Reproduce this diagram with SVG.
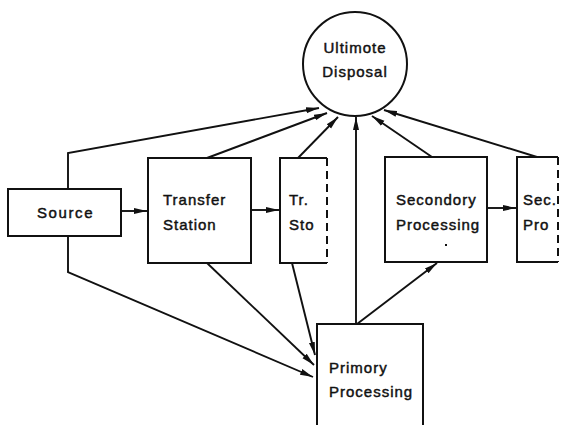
<svg xmlns="http://www.w3.org/2000/svg" width="561" height="425" viewBox="0 0 561 425">
<style>
.b{fill:#fff;stroke:#111;stroke-width:2}
.e{fill:none;stroke:#111;stroke-width:2}
.c{fill:none;stroke:#111;stroke-width:1.9;marker-end:url(#ah)}
.t{font-family:"Liberation Sans",Arial,sans-serif;font-size:15px;letter-spacing:1px;fill:#111;stroke:#111;stroke-width:0.45}
</style>
<defs>
<marker id="ah" markerUnits="userSpaceOnUse" markerWidth="14" markerHeight="8" refX="13" refY="4" orient="auto">
<path d="M0,1 L13,4 L0,7 z" fill="#111"/>
</marker>
</defs>
<rect width="561" height="425" fill="#fff"/>
<g id="connectors">
<line class="c" x1="121" y1="211" x2="147" y2="211"/>
<line class="c" x1="251" y1="210" x2="279" y2="210"/>
<line class="c" x1="487" y1="208" x2="516" y2="208"/>
<polyline class="c" points="68,189 68,153 319,108"/>
<line class="c" x1="207" y1="158" x2="327" y2="113"/>
<line class="c" x1="298" y1="158" x2="338" y2="117"/>
<line class="c" x1="356" y1="324" x2="356" y2="117"/>
<line class="c" x1="432" y1="157" x2="372" y2="116"/>
<line class="c" x1="537" y1="157" x2="384" y2="110"/>
<polyline class="c" points="68,236 68,272 313,377"/>
<line class="c" x1="207" y1="263" x2="314" y2="365"/>
<line class="c" x1="292" y1="263" x2="315" y2="355"/>
<line class="c" x1="357" y1="324" x2="437" y2="263"/>
</g>
<g id="ultimate-disposal">
<circle class="b" cx="355" cy="64" r="52"/>
<text class="t" x="355" y="53" text-anchor="middle">Ultimote</text>
<text class="t" x="355" y="77" text-anchor="middle">Disposal</text>
</g>
<g id="source">
<rect class="b" x="8" y="189" width="113" height="47"/>
<text class="t" x="37" y="218" style="letter-spacing:1.6px">Source</text>
</g>
<g id="transfer-station">
<rect class="b" x="148" y="158" width="103" height="105"/>
<text class="t" x="163" y="205">Transfer</text>
<text class="t" x="163" y="230">Station</text>
</g>
<g id="tr-sto">
<path class="e" d="M327,158 H280 V263 H327"/>
<line class="e" x1="327" y1="158" x2="327" y2="263" stroke-dasharray="8,5"/>
<text class="t" x="289" y="205">Tr.</text>
<text class="t" x="289" y="230">Sto</text>
</g>
<g id="secondary-processing">
<rect class="b" x="385" y="157" width="102" height="105"/>
<text class="t" x="396" y="205">Secondory</text>
<text class="t" x="396" y="230">Processing</text>
<rect x="445" y="244" width="2" height="2" fill="#111"/>
</g>
<g id="sec-pro">
<path class="e" d="M558,157 H517 V262 H558"/>
<line class="e" x1="558" y1="157" x2="558" y2="262" stroke-dasharray="8,5"/>
<text class="t" x="523" y="205">Sec.</text>
<text class="t" x="523" y="230">Pro</text>
</g>
<g id="primary-processing">
<path class="b" d="M317,427 V324 H423 V427"/>
<text class="t" x="329" y="373">Primory</text>
<text class="t" x="329" y="397">Processing</text>
</g>
</svg>
